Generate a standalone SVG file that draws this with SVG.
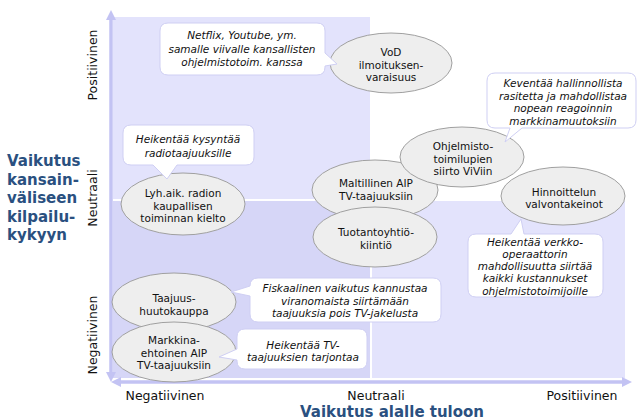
<svg xmlns="http://www.w3.org/2000/svg" width="638" height="420" viewBox="0 0 638 420">
<defs>
<style>
.bgA{fill:#e3e3fc}
.bgB{fill:#d6d6f7}
.bgC{fill:#e3e3fc}
.axis{stroke:#c3c3f3;stroke-width:3.5;fill:none}
.node ellipse{fill:#eeeeee;stroke:#a0a0a0;stroke-width:1}
.node text{font-family:"DejaVu Sans",Verdana,sans-serif;font-size:10.5px;fill:#111;text-anchor:middle}
.call path{fill:#ffffff;stroke:#cfcff3;stroke-width:1}
.call text{font-family:"DejaVu Sans",Verdana,sans-serif;font-style:italic;font-size:10.5px;fill:#111;text-anchor:middle}
.lbl{font-family:"DejaVu Sans",Verdana,sans-serif;font-size:12.5px;fill:#111;text-anchor:middle}
.title{font-family:"DejaVu Sans",Verdana,sans-serif;font-weight:bold;font-size:15px;fill:#2a5080}
</style>
<marker id="ah" viewBox="0 0 10 10" refX="6" refY="5" markerWidth="10" markerHeight="10" markerUnits="userSpaceOnUse" orient="auto-start-reverse"><path d="M0,0 L10,5 L0,10 Z" fill="#c3c3f3"/></marker>
</defs>

<g id="background">
<rect class="bgA" x="113" y="17" width="257" height="182"/>
<rect class="bgB" x="113" y="201" width="257" height="177"/>
<rect class="bgC" x="372" y="201" width="253" height="177"/>
</g>

<g id="axes">
<line class="axis" x1="111" y1="378" x2="111" y2="14" marker-start="url(#ah)" marker-end="url(#ah)"/>
<line class="axis" x1="115" y1="382" x2="628" y2="382" marker-start="url(#ah)" marker-end="url(#ah)"/>
</g>

<g id="axis-labels">
<text class="lbl" transform="translate(97,65) rotate(-90)">Positiivinen</text>
<text class="lbl" transform="translate(97,198) rotate(-90)">Neutraali</text>
<text class="lbl" transform="translate(97,335) rotate(-90)">Negatiivinen</text>
<text class="lbl" x="165" y="400">Negatiivinen</text>
<text class="lbl" x="376" y="400">Neutraali</text>
<text class="lbl" x="582" y="400">Positiivinen</text>
<text class="title" x="300" y="417">Vaikutus alalle tuloon</text>
<text class="title" x="7" y="166">Vaikutus</text>
<text class="title" x="7" y="184.5">kansain-</text>
<text class="title" x="7" y="203">väliseen</text>
<text class="title" x="7" y="221.5">kilpailu-</text>
<text class="title" x="7" y="240">kykyyn</text>
</g>

<g id="n-vod" class="node">
<ellipse cx="391" cy="63" rx="61" ry="30"/>
<text x="391" y="56">VoD</text>
<text x="391" y="68.5">ilmoituksen-</text>
<text x="391" y="81">varaisuus</text>
</g>
<g id="n-maltillinen" class="node">
<ellipse cx="375" cy="190" rx="63" ry="30"/>
<text x="376" y="187">Maltillinen  AIP</text>
<text x="376" y="199.5">TV-taajuuksiin</text>
</g>
<g id="n-ohjelmisto" class="node">
<ellipse cx="462" cy="157" rx="62" ry="30"/>
<text x="463" y="150">Ohjelmisto-</text>
<text x="463" y="162.5">toimilupien</text>
<text x="463" y="175">siirto ViViin</text>
</g>
<g id="n-tuotanto" class="node">
<ellipse cx="375" cy="237" rx="62" ry="30"/>
<text x="376" y="236">Tuotantoyhtiö-</text>
<text x="376" y="248.5">kiintiö</text>
</g>
<g id="n-hinnoittelu" class="node">
<ellipse cx="563" cy="196" rx="62" ry="29"/>
<text x="564" y="196">Hinnoittelun</text>
<text x="564" y="208">valvontakeinot</text>
</g>
<g id="n-radio" class="node">
<ellipse cx="183" cy="204" rx="62" ry="31"/>
<text x="183" y="197">Lyh.aik. radion</text>
<text x="183" y="209.5">kaupallisen</text>
<text x="183" y="222">toiminnan  kielto</text>
</g>
<g id="n-huutokauppa" class="node">
<ellipse cx="174" cy="302" rx="62" ry="29"/>
<text x="174" y="302">Taajuus-</text>
<text x="174" y="314.5">huutokauppa</text>
</g>
<g id="n-markkina" class="node">
<ellipse cx="174" cy="352" rx="62" ry="30"/>
<text x="174" y="344">Markkina-</text>
<text x="174" y="356.5">ehtoinen AIP</text>
<text x="174" y="369">TV-taajuuksiin</text>
</g>

<g id="c-netflix" class="call">
<path d="M168,23 H317 Q325,23 325,31 V53 L337,64 L325,66 V67 Q325,75 317,75 H168 Q160,75 160,67 V31 Q160,23 168,23 Z"/>
<text x="242" y="39">Netflix, Youtube,  ym.</text>
<text x="242" y="52.5">samalle viivalle kansallisten</text>
<text x="242" y="66">ohjelmistotoim. kanssa</text>
</g>
<g id="c-radio" class="call">
<path d="M131,125 H246 Q254,125 254,133 V157 Q254,165 246,165 H177 L167,179 L153,165 H131 Q123,165 123,157 V133 Q123,125 131,125 Z"/>
<text x="188" y="143">Heikentää kysyntää</text>
<text x="188" y="156.5">radiotaajuuksille</text>
</g>
<g id="c-keventaa" class="call">
<path d="M495,73 H628 Q636,73 636,81 V120 Q636,128 628,128 H522 L505,142 L510,128 H495 Q487,128 487,120 V81 Q487,73 495,73 Z"/>
<text x="563" y="87">Keventää hallinnollista</text>
<text x="563" y="99.5">rasitetta ja mahdollistaa</text>
<text x="563" y="112">nopean reagoinnin</text>
<text x="563" y="124.5">markkinamuutoksiin</text>
</g>
<g id="c-verkko" class="call">
<path d="M476,234 H511 L521,219 L524,234 H595 Q603,234 603,242 V289 Q603,297 595,297 H476 Q468,297 468,289 V242 Q468,234 476,234 Z"/>
<text x="535" y="245.5">Heikentää verkko-</text>
<text x="535" y="257.8">operaattorin</text>
<text x="535" y="270.1">mahdollisuutta siirtää</text>
<text x="535" y="282.4">kaikki kustannukset</text>
<text x="535" y="294.7">ohjelmistotoimijoille</text>
</g>
<g id="c-fiskaalinen" class="call">
<path d="M258,278 H433 Q441,278 441,286 V314 Q441,322 433,322 H258 Q250,322 250,314 V296 L231,292 L250,286 Q250,278 258,278 Z"/>
<text x="345" y="292">Fiskaalinen vaikutus kannustaa</text>
<text x="345" y="304.5">viranomaista siirtämään</text>
<text x="345" y="317">taajuuksia pois TV-jakelusta</text>
</g>
<g id="c-tarjonta" class="call">
<path d="M245,329 H359 Q367,329 367,337 V361 Q367,369 359,369 H245 Q237,369 237,361 V360 L219,357 L237,349 V337 Q237,329 245,329 Z"/>
<text x="303" y="349">Heikentää TV-</text>
<text x="303" y="361">taajuuksien tarjontaa</text>
</g>
</svg>
